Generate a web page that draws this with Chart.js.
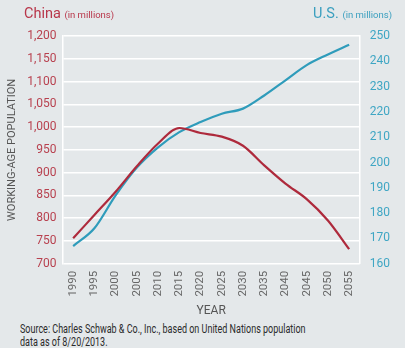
<!DOCTYPE html>
<html>
<head>
<meta charset="utf-8">
<script src="https://cdn.jsdelivr.net/npm/chart.js@4/dist/chart.umd.min.js"></script>
<style>
  html, body { margin: 0; padding: 0; background: #e4e8ea; }
  #wrap { position: relative; width: 405px; height: 348px; overflow: hidden; }
  #chartBox { position: absolute; left: 0; top: 0; width: 405px; height: 318px; }
  .hdr { position: absolute; top: 5px; font-family: Roboto, "Noto Sans", sans-serif; font-size: 14.5px; }
  .hdr small { font-size: 9.5px; }
  #cn { left: 24px; color: #b8364a; }
  #us { right: 13px; color: #3a9fbf; }
  #src { position: absolute; left: 20px; top: 323px; white-space: nowrap; transform: scaleX(0.75); transform-origin: 0 0;
         font-family: Roboto, sans-serif; font-size: 12px; line-height: 12.5px; color: #2b2b2b; }
</style>
</head>
<body>
<div id="wrap">
  <div id="chartBox"><canvas id="myChart" width="405" height="318"></canvas></div>
  <div class="hdr" id="cn">China <small>(in millions)</small></div>
  <div class="hdr" id="us">U.S. <small>(in millions)</small></div>
  <div id="src">Source: Charles Schwab &amp; Co., Inc., based on United Nations population<br>data as of 8/20/2013.</div>
</div>
<script>
var years = ['1990','1995','2000','2005','2010','2015','2020','2025','2030','2035','2040','2045','2050','2055'];
var chinaWorking = [756, 807, 858, 914, 964, 998, 987, 979, 959, 916, 876, 842, 795, 732];
var usWorking = [167, 174, 187, 198, 206, 212, 216, 219.3, 221.3, 226.5, 232.5, 238.5, 242.7, 246.5];

var red = '#ae2a3c';
var blue = '#2f9cbb';

var chart = new Chart(document.getElementById('myChart'), {
  type: 'line',
  data: {
    labels: years,
    datasets: [
      {
        label: 'China',
        data: chinaWorking,
        borderColor: red,
        borderWidth: 2.2,
        pointRadius: 0,
        cubicInterpolationMode: 'monotone',
        yAxisID: 'y'
      },
      {
        label: 'U.S.',
        data: usWorking,
        borderColor: blue,
        borderWidth: 2.2,
        pointRadius: 0,
        cubicInterpolationMode: 'monotone',
        yAxisID: 'y1'
      }
    ]
  },
  options: {
    responsive: false,
    animation: false,
    layout: { padding: { top: 36, right: 5, left: 2, bottom: 0 } },
    plugins: { legend: { display: false }, tooltip: { enabled: false } },
    scales: {
      x: {
        offset: true,
        grid: { display: false, drawTicks: false },
        border: { display: false },
        ticks: {
          color: '#666',
          font: { family: 'Roboto', size: 11.5 },
          maxRotation: 90, minRotation: 90,
          padding: 7
        },
        title: {
          display: true, text: 'YEAR', color: '#555',
          font: { family: 'Roboto', size: 12 }, padding: { top: 0, bottom: 0 }
        }
      },
      y: {
        position: 'left',
        min: 700, max: 1200,
        ticks: { stepSize: 50, color: '#b8414f', font: { family: 'Roboto', size: 12 }, padding: 6 },
        grid: { color: '#ffffff', lineWidth: 1.5, drawTicks: false },
        border: { color: '#ffffff', width: 1.5 },
        title: {
          display: true, text: 'WORKING-AGE POPULATION', color: '#555',
          font: { family: 'Roboto', size: 11 }, padding: { bottom: 2 }
        }
      },
      y1: {
        position: 'right',
        min: 160, max: 250,
        ticks: { stepSize: 10, color: '#3fa6c4', font: { family: 'Roboto', size: 12 }, padding: 10 },
        grid: { drawOnChartArea: false, drawTicks: false },
        border: { color: '#ffffff', width: 1.5 }
      }
    }
  }
});
</script>
</body>
</html>
